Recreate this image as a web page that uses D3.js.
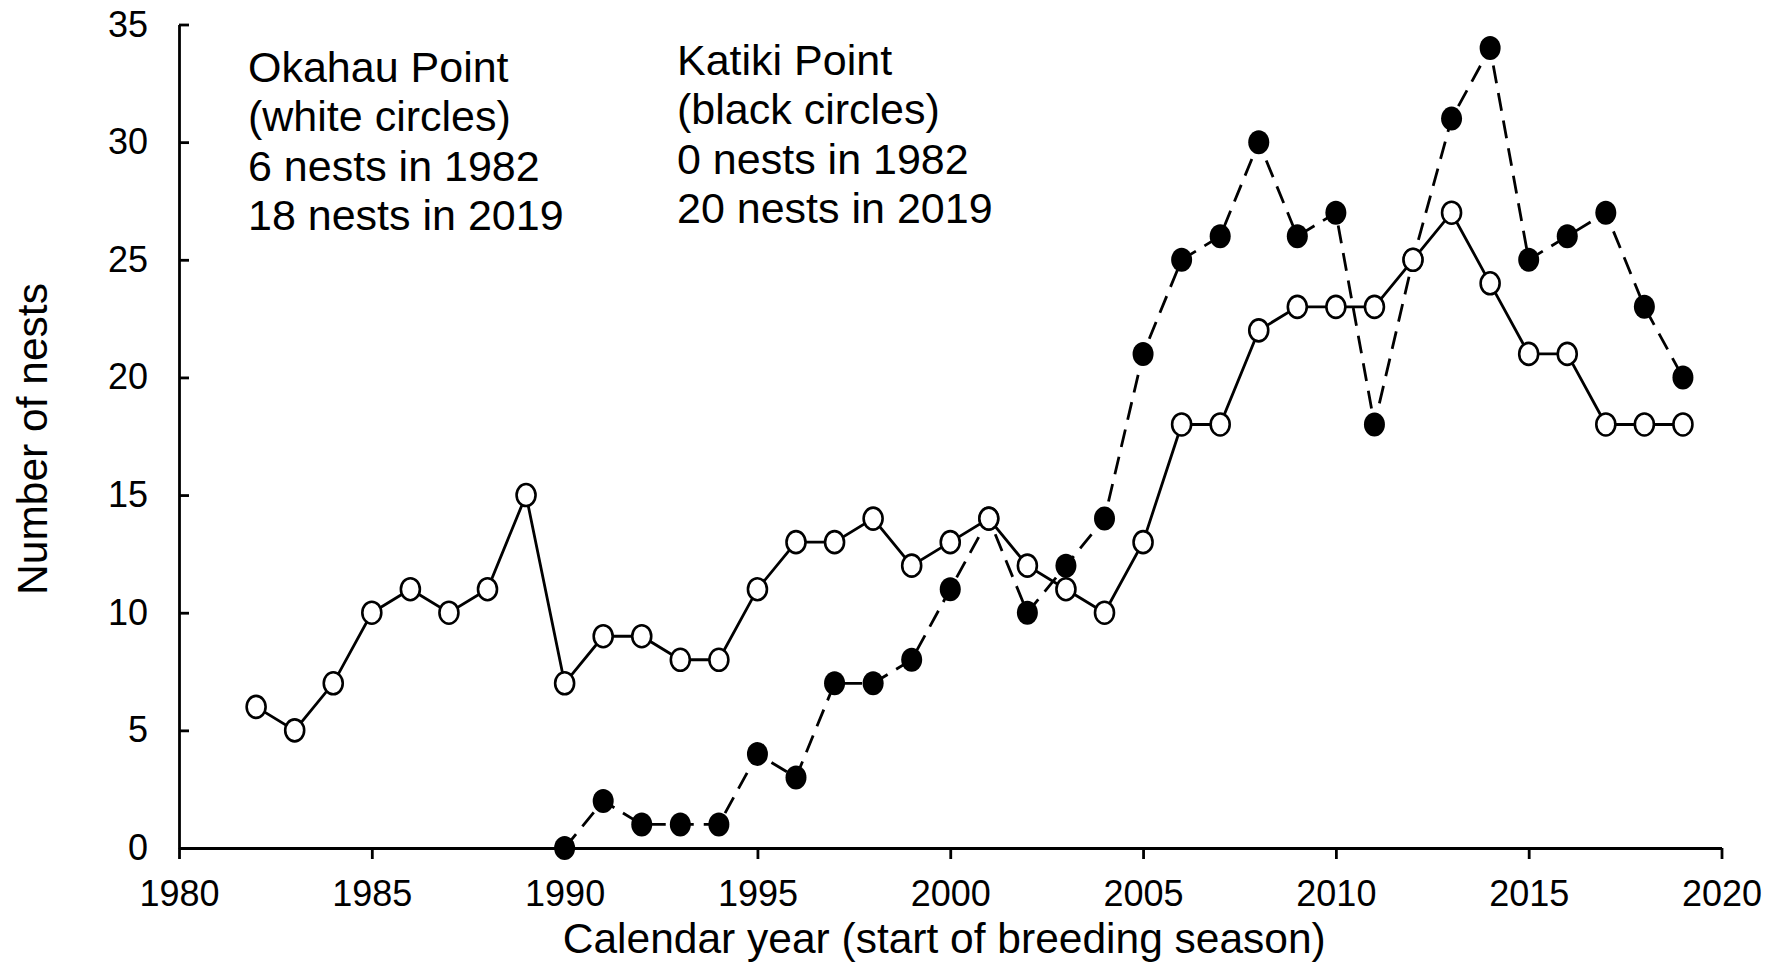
<!DOCTYPE html>
<html>
<head>
<meta charset="utf-8">
<script src="https://cdn.jsdelivr.net/npm/d3@7"></script>
<style>
  body { margin: 0; background: #fff; }
  svg text { font-family: "Liberation Sans", Arial, sans-serif; fill: #000; }
</style>
</head>
<body>
<svg id="chart" width="1777" height="966"></svg>
<script>
// data
let okahauYears = d3.range(1982, 2020)
let okahauNests = [6, 5, 7, 10, 11, 10, 11, 15, 7, 9, 9, 8, 8, 11, 13, 13, 14, 12, 13, 14,
  12, 11, 10, 13, 18, 18, 22, 23, 23, 23, 25, 27, 24, 21, 21, 18, 18, 18]

let katikiYears = d3.range(1990, 2020)
let katikiNests = [0, 2, 1, 1, 1, 4, 3, 7, 7, 8, 11, 14, 10, 12, 14, 21, 25, 26, 30, 26,
  27, 18, 25, 31, 34, 25, 26, 27, 23, 20]

let xTicks = [1980, 1985, 1990, 1995, 2000, 2005, 2010, 2015, 2020]
let yTicks = [0, 5, 10, 15, 20, 25, 30, 35]

let okahauLabel = ["Okahau Point", "(white circles)", "6 nests in 1982", "18 nests in 2019"]
let katikiLabel = ["Katiki Point", "(black circles)", "0 nests in 1982", "20 nests in 2019"]

let svg = d3.select("#chart")

// scales
let xScale = d3.scaleLinear()
  .domain([1980, 2020])
  .range([179, 1721.5])

let yScale = d3.scaleLinear()
  .domain([0, 35])
  .range([848, 24.5])

// x axis
let xAxis = d3.axisBottom(xScale)
  .tickValues(xTicks)
  .tickFormat(d3.format("d"))
  .tickSizeInner(11)
  .tickSizeOuter(0)
  .tickPadding(21)

svg.append("g")
  .attr("class", "x-axis")
  .attr("transform", "translate(0," + yScale(0) + ")")
  .call(xAxis)

// y axis, ticks point into the plot
let yAxis = d3.axisLeft(yScale)
  .tickValues(yTicks)
  .tickSizeInner(-10)
  .tickSizeOuter(0)
  .tickPadding(31)

svg.append("g")
  .attr("class", "y-axis")
  .attr("transform", "translate(" + xScale(1980) + ",0)")
  .call(yAxis)

svg.selectAll(".x-axis path, .y-axis path, .x-axis line, .y-axis line")
  .attr("stroke", "#000")
  .attr("stroke-width", 2.8)

svg.selectAll(".x-axis text, .y-axis text")
  .style("font-size", "36px")
  .attr("fill", "#000")

// axis titles
svg.append("text")
  .attr("x", (xScale(1980) + xScale(2020)) / 2 - 6)
  .attr("y", 953)
  .style("text-anchor", "middle")
  .style("font-size", "42.5px")
  .text("Calendar year (start of breeding season)")

svg.append("text")
  .attr("transform", "translate(47,439) rotate(-90)")
  .style("text-anchor", "middle")
  .style("font-size", "42.5px")
  .text("Number of nests")

// lines
let line = d3.line()
  .x(function (d) { return xScale(d.year) })
  .y(function (d) { return yScale(d.nests) })

let katiki = katikiYears.map(function (y, i) { return { year: y, nests: katikiNests[i] } })
let okahau = okahauYears.map(function (y, i) { return { year: y, nests: okahauNests[i] } })

svg.append("path")
  .datum(katiki)
  .attr("d", line)
  .attr("fill", "none")
  .attr("stroke", "#000")
  .attr("stroke-width", 2.8)
  .attr("stroke-dasharray", "18,10")

svg.selectAll(".dot-katiki")
  .data(katiki)
  .enter()
  .append("ellipse")
  .attr("class", "dot-katiki")
  .attr("cx", function (d) { return xScale(d.year) })
  .attr("cy", function (d) { return yScale(d.nests) })
  .attr("rx", 10.5)
  .attr("ry", 12)
  .attr("fill", "#000")

svg.append("path")
  .datum(okahau)
  .attr("d", line)
  .attr("fill", "none")
  .attr("stroke", "#000")
  .attr("stroke-width", 2.8)

svg.selectAll(".dot-okahau")
  .data(okahau)
  .enter()
  .append("ellipse")
  .attr("class", "dot-okahau")
  .attr("cx", function (d) { return xScale(d.year) })
  .attr("cy", function (d) { return yScale(d.nests) })
  .attr("rx", 9.5)
  .attr("ry", 11)
  .attr("fill", "#fff")
  .attr("stroke", "#000")
  .attr("stroke-width", 2.6)

// site labels
function addLabel(lines, x, y) {
  svg.append("g")
    .selectAll("text")
    .data(lines)
    .enter()
    .append("text")
    .attr("x", x)
    .attr("y", function (d, i) { return y + i * 49.3 })
    .style("font-size", "43px")
    .text(function (d) { return d })
}

addLabel(okahauLabel, 248, 82)
addLabel(katikiLabel, 677, 75)
</script>
</body>
</html>
